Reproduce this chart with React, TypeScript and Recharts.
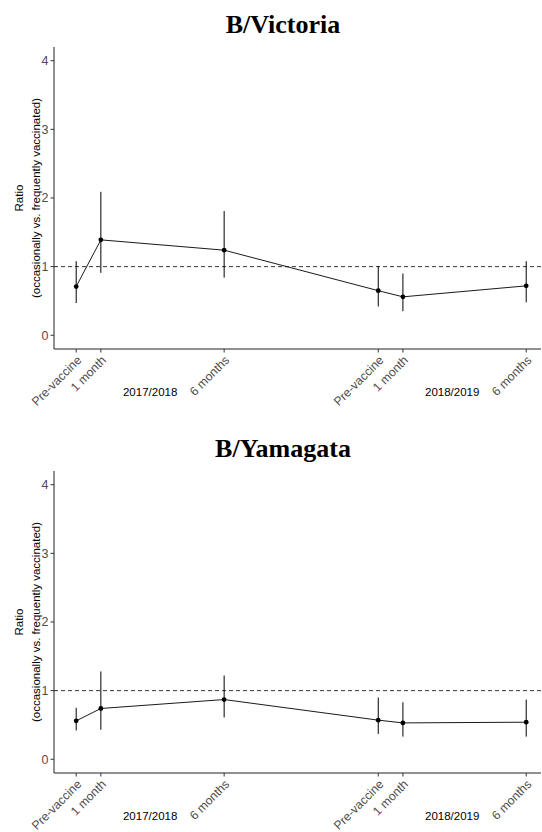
import React from 'react';
import { ComposedChart, Line, XAxis, YAxis, ReferenceLine, ErrorBar } from 'recharts';

// x positions in months from each season's pre-vaccine visit
const xTicks = [0, 1, 6, 12.25, 13.25, 18.25];
const tickLabels = ['Pre-vaccine', '1 month', '6 months', 'Pre-vaccine', '1 month', '6 months'];
const seasonPos = [3, 15.25];
const seasonLabels = ['2017/2018', '2018/2019'];

const victoriaRatio = [0.71, 1.39, 1.24, 0.65, 0.56, 0.72];
const victoriaLower = [0.47, 0.91, 0.84, 0.42, 0.35, 0.48];
const victoriaUpper = [1.08, 2.09, 1.81, 1.01, 0.9, 1.08];

const yamagataRatio = [0.56, 0.74, 0.87, 0.57, 0.53, 0.54];
const yamagataLower = [0.42, 0.43, 0.61, 0.37, 0.33, 0.33];
const yamagataUpper = [0.75, 1.28, 1.22, 0.9, 0.83, 0.87];

const yTicks = [0, 1, 2, 3, 4];

const TICK_SIZE = 4;
const TICK_MARGIN = 2;

function buildRows(ratio: number[], lower: number[], upper: number[]) {
  return xTicks.map((x, i) => ({
    x,
    ratio: ratio[i],
    err: [ratio[i] - lower[i], upper[i] - ratio[i]],
  }));
}

function XTick(props: any) {
  const { x, y, payload } = props;
  const v = payload.value;
  const axisY = y - TICK_SIZE - TICK_MARGIN;
  const si = seasonPos.indexOf(v);
  if (si >= 0) {
    return (
      <text x={x} y={axisY + 43} textAnchor="middle" dominantBaseline="central" fontSize={11.5} fill="#000">
        {seasonLabels[si]}
      </text>
    );
  }
  const i = xTicks.indexOf(v);
  const ax = x + 6;
  const ay = axisY + 12;
  return (
    <g>
      <line x1={x} x2={x} y1={axisY} y2={axisY + 3.5} stroke="#333" strokeWidth={1} />
      <text x={ax} y={ay} transform={`rotate(-45 ${ax} ${ay})`} textAnchor="end" fontSize={12.2} fill="#4D4D4D">
        {tickLabels[i]}
      </text>
    </g>
  );
}

function YLabel(props: any) {
  const { viewBox } = props;
  const cy = viewBox.y + viewBox.height / 2;
  return (
    <g>
      <text x={19} y={cy} transform={`rotate(-90 19 ${cy})`} textAnchor="middle" dominantBaseline="central" fontSize={11.5} fill="#000">
        Ratio
      </text>
      <text x={36} y={cy} transform={`rotate(-90 36 ${cy})`} textAnchor="middle" dominantBaseline="central" fontSize={11.5} fill="#000">
        (occasionally vs. frequently vaccinated)
      </text>
    </g>
  );
}

function Dot(props: any) {
  const { cx, cy } = props;
  if (cx == null || cy == null) return null;
  return <circle cx={cx} cy={cy} r={2.4} fill="#000" />;
}

function Panel({ title, rows, height, axisHeight }: { title: string; rows: any[]; height: number; axisHeight: number }) {
  return (
    <div style={{ position: 'relative', width: 542, height }}>
      <div
        style={{
          position: 'absolute',
          top: 12,
          left: 0,
          width: 566,
          textAlign: 'center',
          fontFamily: '"Liberation Serif", serif',
          fontWeight: 'bold',
          fontSize: 26,
          lineHeight: '26px',
          color: '#000',
        }}
      >
        {title}
      </div>
      <ComposedChart width={542} height={height} data={rows} margin={{ top: 47, right: 1, bottom: 0, left: 0 }}>
        <XAxis
          type="number"
          dataKey="x"
          domain={[-0.9, 18.85]}
          allowDataOverflow
          ticks={[...xTicks, ...seasonPos].sort((a, b) => a - b)}
          interval={0}
          tick={<XTick />}
          tickLine={false}
          tickSize={TICK_SIZE}
          tickMargin={TICK_MARGIN}
          height={axisHeight}
          axisLine={{ stroke: '#222', strokeWidth: 1 }}
        />
        <YAxis
          type="number"
          domain={[-0.2, 4.2]}
          allowDataOverflow
          ticks={yTicks}
          width={54}
          tickSize={3.5}
          tickMargin={2}
          tick={{ fill: '#4D4D4D', fontSize: 12.5 }}
          tickLine={{ stroke: '#333' }}
          axisLine={{ stroke: '#222', strokeWidth: 1 }}
          label={YLabel}
        />
        <ReferenceLine y={1} stroke="#000" strokeDasharray="4 3" strokeWidth={0.8} />
        <Line
          type="linear"
          dataKey="ratio"
          stroke="#000"
          strokeWidth={0.9}
          dot={<Dot />}
          activeDot={false}
          isAnimationActive={false}
        >
          <ErrorBar dataKey="err" width={0} stroke="#000" strokeWidth={1} isAnimationActive={false} />
        </Line>
      </ComposedChart>
    </div>
  );
}

export default function App() {
  const victoria = buildRows(victoriaRatio, victoriaLower, victoriaUpper);
  const yamagata = buildRows(yamagataRatio, yamagataLower, yamagataUpper);
  return (
    <div
      style={{
        position: 'absolute',
        left: 0,
        top: 0,
        width: 542,
        height: 832,
        background: '#fff',
        fontFamily: '"Liberation Sans", Arial, sans-serif',
      }}
    >
      <Panel title="B/Victoria" rows={victoria} height={424} axisHeight={75} />
      <Panel title="B/Yamagata" rows={yamagata} height={408} axisHeight={59} />
    </div>
  );
}
